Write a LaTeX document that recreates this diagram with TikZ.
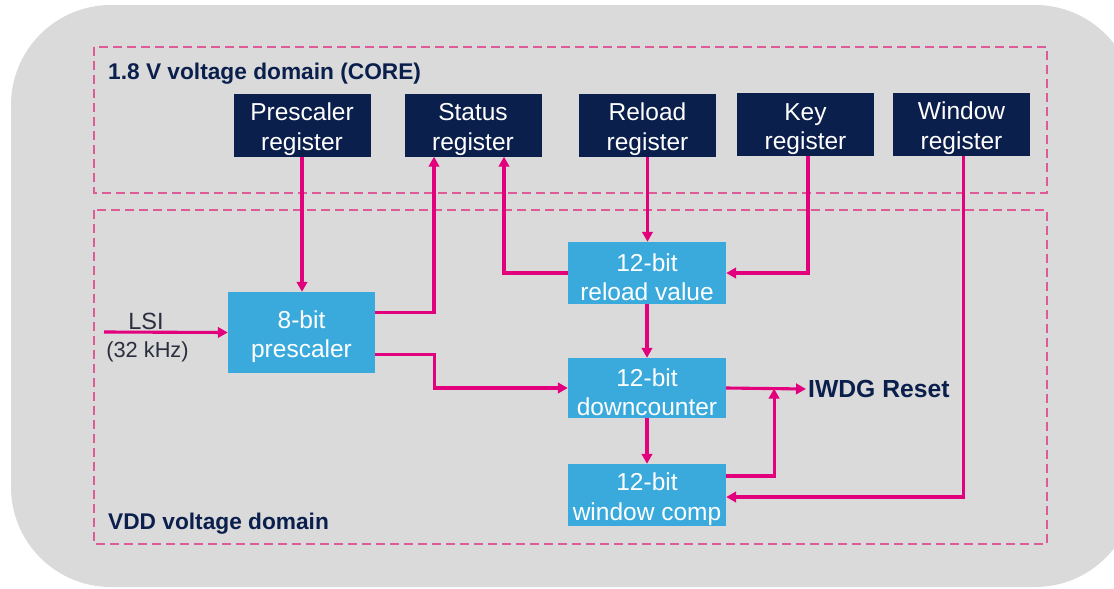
\documentclass[tikz,border=0pt]{standalone}
\usepackage{fontspec}
\setmainfont{Liberation Sans}
\usetikzlibrary{arrows.meta,calc}
\definecolor{stnavy}{HTML}{0B1F4D}
\definecolor{stblue}{HTML}{3AAADD}
\definecolor{stpink}{HTML}{E2007D}
\definecolor{dashpink}{HTML}{DD5C98}
\definecolor{bggray}{HTML}{DADADA}
\definecolor{txtgray}{HTML}{2A2E3E}
\newcommand{\tstr}{\rule{0pt}{26pt}}
\begin{document}
\begin{tikzpicture}[x=1pt,y=-1pt,
  regbox/.style={fill=stnavy,text=white,minimum width=137pt,minimum height=63pt,inner sep=0pt,align=center,font=\fontsize{24.5}{29.5}\selectfont},
  blkbox/.style={fill=stblue,text=white,minimum width=158pt,inner sep=0pt,align=center,font=\fontsize{24.5}{29.5}\selectfont},
  domainbox/.style={draw=dashpink,line width=1.3pt,dash pattern=on 9pt off 5pt},
  dlabel/.style={text=stnavy,font=\bfseries\fontsize{22.7}{26}\selectfont,anchor=west,inner sep=0pt},
  lsitext/.style={text=txtgray,inner sep=0pt},
  arr/.style={draw=stpink,line width=3.1pt,-{Triangle[length=10pt,width=10.5pt]}},
  ]
\useasboundingbox (0,0) rectangle (1114,589);
\fill[white] (0,0) rectangle (1114,589);
\begin{scope}
  \clip (0,0) rectangle (1114,589);
  \fill[bggray,rounded corners=100pt] (11,5) rectangle (1135,587);
\end{scope}

% voltage domains
\draw[domainbox] (94,47) rectangle (1047,193);
\draw[domainbox] (94,210) rectangle (1047,544);
\node[dlabel] (corelbl) at (108,73.5) {1.8 V voltage domain (CORE)};
\node[dlabel] (vddlbl) at (108,524) {VDD voltage domain};

% registers
\node[regbox] (preg) at (302,125) {\tstr Prescaler\\register};
\node[regbox] (sreg) at (473,125) {\tstr Status\\register};
\node[regbox] (rreg) at (647.5,125) {\tstr Reload\\register};
\node[regbox] (kreg) at (805.5,124.5) {\tstr Key\\register};
\node[regbox] (wreg) at (961.5,124) {\tstr Window\\register};

% blocks
\node[blkbox,minimum width=147pt,minimum height=81pt] (pres) at (301.5,332.5) {\tstr 8-bit\\prescaler};
\node[blkbox,minimum height=62pt] (rval) at (647,273) {\tstr 12-bit\\reload value};
\node[blkbox,minimum height=60pt] (dcnt) at (647,388) {\tstr 12-bit\\downcounter};
\node[blkbox,minimum height=62pt] (wcmp) at (647,495) {\tstr 12-bit\\window comp};

% LSI input
\node[lsitext,font=\fontsize{23.5}{27}\selectfont] (lsi) at (146,321) {LSI};
\node[lsitext,font=\fontsize{21.8}{25}\selectfont] (khz) at (147.5,352) {(32 kHz)};
\coordinate (lsiin) at (104,332);
\draw[arr] (lsiin) -- (pres.west);

% reset output
\node[text=stnavy,font=\bfseries\fontsize{24.7}{29}\selectfont,anchor=west,inner sep=2pt] (reset) at (806,389) {IWDG Reset};

% connectors
\draw[arr] (preg.south) -- (preg.south |- pres.north);
\draw[arr] ([yshift=20pt]pres.east) -| ([xshift=-39pt]sreg.south);
\draw[arr] (rval.west) -| ([xshift=31pt]sreg.south);
\draw[arr] (rreg.south) -- (rreg.south |- rval.north);
\draw[arr] ([xshift=2.5pt]kreg.south) |- (rval.east);
\draw[arr] ([yshift=-22pt]pres.east) -- ++(59,0) |- (dcnt.west);
\draw[arr,line width=3.8pt] (rval.south) -- (dcnt.north);
\draw[arr] (dcnt.east) -- (reset.west);
\draw[arr] (dcnt.south) -- (wcmp.north);
\draw[arr] ([yshift=19pt]wcmp.east) -| ($(dcnt.east)!0.6!(reset.west)$);
\draw[arr] ([xshift=2pt]wreg.south) |- ([yshift=-2pt]wcmp.east);
\end{tikzpicture}
\end{document}
